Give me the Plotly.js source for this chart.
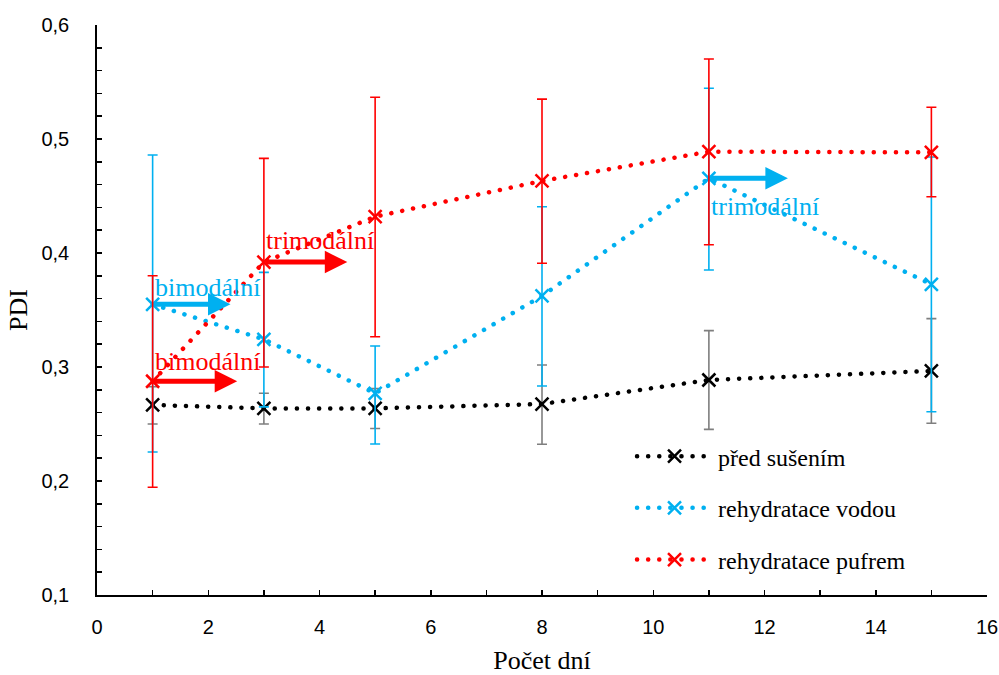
<!DOCTYPE html>
<html>
<head>
<meta charset="utf-8">
<script src="https://cdn.plot.ly/plotly-3.0.1.min.js"></script>
<style>
html,body{margin:0;padding:0;background:#fff;}
.scatterlayer .js-line{stroke-linecap:round;}
.legend .js-line{stroke-linecap:round;}
</style>
</head>
<body>
<div id="chart" style="width:999px;height:675px;"></div>
<script>
// Days
const days = [1, 3, 5, 8, 11, 15];

// Series names
const seriesNames = ["před sušením", "rehydratace vodou", "rehydratace pufrem"];

// PDI values
const predSusenim = [0.2667, 0.2637, 0.2637, 0.2675, 0.2886, 0.2965];
const rehydrVodou = [0.3550, 0.3243, 0.2769, 0.3623, 0.4655, 0.3725];
const rehydrPufrem = [0.2875, 0.3920, 0.4319, 0.4632, 0.4889, 0.4883];

// Error bar ends (upper / lower values)
const predUpper = [0.2827, 0.2770, 0.2810, 0.3018, 0.3319, 0.3424];
const predLower = [0.2500, 0.2500, 0.2460, 0.2322, 0.2453, 0.2506];
const vodouUpper = [0.4860, 0.3830, 0.3184, 0.4406, 0.5445, 0.4842];
const vodouLower = [0.2254, 0.2650, 0.2325, 0.2833, 0.3851, 0.2608];
const pufremUpper = [0.3800, 0.4830, 0.5366, 0.5350, 0.5702, 0.5278];
const pufremLower = [0.1945, 0.3000, 0.3266, 0.3910, 0.4073, 0.4494];

// Tick labels
const yTickVals = [0.1, 0.2, 0.3, 0.4, 0.5, 0.6];
const yTickText = ["0,1", "0,2", "0,3", "0,4", "0,5", "0,6"];
const xTickVals = [0, 2, 4, 6, 8, 10, 12, 14, 16];

// Annotation labels
const labelBimodal = "bimodální";
const labelTrimodal = "trimodální";

const colBlack = "#000000", colGray = "#7f7f7f", colBlue = "#00B0F0", colRed = "#FF0000";

function errs(vals, up, lo) {
  return {
    plus: up.map((u, i) => +(u - vals[i]).toFixed(4)),
    minus: vals.map((v, i) => +(v - lo[i]).toFixed(4))
  };
}

function makeTrace(name, vals, up, lo, color, errColor) {
  const e = errs(vals, up, lo);
  return {
    x: days, y: vals, name: name, type: "scatter", mode: "lines+markers",
    line: {color: color, width: 4.5, dash: "0.1px,11px"},
    marker: {symbol: "x-thin", size: 13, line: {color: color, width: 2.5}, color: color},
    error_y: {type: "data", symmetric: false, array: e.plus, arrayminus: e.minus,
              color: errColor, thickness: 1.6, width: 5},
    legendgroup: name
  };
}

const data = [
  makeTrace(seriesNames[0], predSusenim, predUpper, predLower, colBlack, colGray),
  makeTrace(seriesNames[1], rehydrVodou, vodouUpper, vodouLower, colBlue, colBlue),
  makeTrace(seriesNames[2], rehydrPufrem, pufremUpper, pufremLower, colRed, colRed)
];

const serif = "Liberation Serif, Times New Roman, serif";
const sans = "Liberation Sans, Arial, sans-serif";
const annFont = (c) => ({family: serif, size: 26, color: c});

function arrow(x0, y0, x1, color) {
  return {x: x1, y: y0, ax: x0, ay: y0, xref: "x", yref: "y", axref: "x", ayref: "y",
          text: "", showarrow: true, arrowhead: 2, arrowsize: 0.9, arrowwidth: 5,
          arrowcolor: color, standoff: 0, startstandoff: 0};
}
function label(x, y, t, color) {
  return {x: x, y: y, xref: "x", yref: "y", text: t, showarrow: false,
          xanchor: "left", yanchor: "middle", font: annFont(color)};
}

const layout = {
  width: 999, height: 675,
  margin: {l: 97, r: 12, t: 25, b: 80},
  paper_bgcolor: "#fff", plot_bgcolor: "#fff",
  separators: ", ",
  showlegend: true,
  legend: {x: 0.6034, y: 0.2824, xanchor: "left", yanchor: "top",
           font: {family: serif, size: 24, color: "#000"},
           bgcolor: "rgba(0,0,0,0)", traceorder: "grouped", tracegroupgap: 17.5,
           itemwidth: 74},
  xaxis: {range: [0, 16], tickvals: xTickVals, ticktext: xTickVals.map(String),
          ticks: "inside", ticklen: 5, tickwidth: 1.5, tickcolor: "#000",
          minor: {dtick: 1, tick0: 0, ticks: "inside", ticklen: 5, tickwidth: 1.5, tickcolor: "#000"},
          showline: true, linecolor: "#000", linewidth: 1.8, showgrid: false, zeroline: false,
          tickfont: {family: sans, size: 20, color: "#000"},
          ticklabelstandoff: 13,
          title: {text: "Počet dní", font: {family: serif, size: 26, color: "#000"}, standoff: 14}},
  yaxis: {range: [0.1, 0.6], tickvals: yTickVals, ticktext: yTickText,
          ticks: "inside", ticklen: 5, tickwidth: 1.5, tickcolor: "#000",
          minor: {dtick: 0.02, tick0: 0.1, ticks: "inside", ticklen: 5, tickwidth: 1.5, tickcolor: "#000"},
          showline: true, linecolor: "#000", linewidth: 1.8, showgrid: false, zeroline: false,
          tickfont: {family: sans, size: 20, color: "#000"},
          ticklabelstandoff: 22,
          title: {text: "PDI", font: {family: serif, size: 26, color: "#000"}, standoff: 6}},
  annotations: [
    arrow(1, rehydrVodou[0], 2.4, colBlue),
    arrow(1, rehydrPufrem[0], 2.52, colRed),
    arrow(3, rehydrPufrem[1], 4.5, colRed),
    arrow(11, rehydrVodou[4], 12.42, colBlue),
    label(1.0, 0.370, labelBimodal, colBlue),
    label(1.0, 0.3044, labelBimodal, colRed),
    label(3.0, 0.4114, labelTrimodal, colRed),
    label(11.0, 0.4404, labelTrimodal, colBlue)
  ]
};

Plotly.newPlot("chart", data, layout, {displayModeBar: false, staticPlot: true}).then(function (gd) {
  // lengthen legend sample lines and centre the marker on them
  gd.querySelectorAll(".legend .traces").forEach(function (tr) {
    const lines = tr.querySelectorAll(".legendlines path");
    lines.forEach(function (p) { p.setAttribute("d", "M3,0h75"); });
    const sym = tr.querySelector(".legendsymbols");
    if (!lines.length || !sym) return;
    const lb = lines[0].getBoundingClientRect();
    const sb = sym.getBoundingClientRect();
    const lineMid = lb.left + lb.width / 2;
    const symMid = sb.left + sb.width / 2;
    const dx = lineMid - symMid;
    const prev = sym.getAttribute("transform") || "";
    sym.setAttribute("transform", prev + " translate(" + dx.toFixed(2) + ",0)");
  });
});
</script>
</body>
</html>
